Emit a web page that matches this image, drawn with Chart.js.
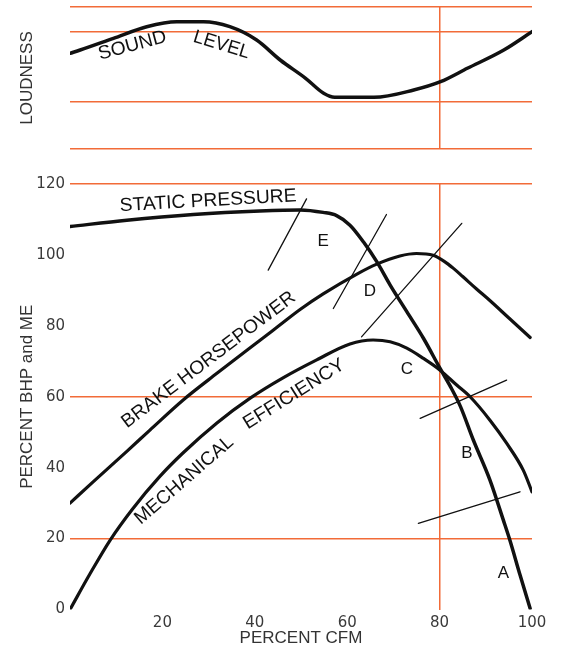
<!DOCTYPE html>
<html>
<head>
<meta charset="utf-8">
<title>Fan performance curves</title>
<script src="https://cdn.jsdelivr.net/npm/chart.js@4.4.1/dist/chart.umd.min.js"></script>
<style>
  html, body { margin: 0; padding: 0; background: #fff; }
  #wrap { position: relative; width: 563px; height: 649px; }
  #topChart { position: absolute; left: 0; top: 0; }
  #mainChart { position: absolute; left: 0; top: 168px; }
</style>
</head>
<body>
<div id="wrap">
  <canvas id="topChart" width="563" height="168"></canvas>
  <canvas id="mainChart" width="563" height="481"></canvas>
</div>
<script>
// x values are percent CFM everywhere
const xTicks = [20, 40, 60, 80, 100];
const yTicks = [0, 20, 40, 60, 80, 100, 120];
const gridPct = [20, 60, 120];     // orange horizontal rules, lower panel
const gridCfm = [80];              // orange vertical rule
const loudnessGrid = [0, 47, 117, 142]; // rules in the loudness panel (arbitrary units)

// sound level (loudness panel, arbitrary units)
const soundCfm = [0, 2.2, 9.4, 16.6, 23.1, 28.9, 34.6, 40.4, 45.5, 51.0, 54.9, 57.3, 65.8, 74.4, 80.2, 86.0, 93.9, 100];
const soundLevel = [95.7, 99, 110.7, 122.3, 127.3, 127.3, 122.3, 109, 89, 70.7, 55.7, 51.7, 51.7, 59, 67.3, 80.7, 99, 117.3];

// static pressure
const staticCfm = [0, 12.3, 26.7, 41.1, 49.8, 54.8, 57.7, 60.6, 63.5, 66.4, 69.3, 72.9, 76.5, 80.1, 82.5, 84.5, 87.3, 90.9, 93.8, 95.2, 97.4, 99.6];
const staticPressure = [108.0, 109.8, 111.4, 112.4, 112.7, 112.0, 111.1, 108.4, 103.7, 98.1, 91.5, 84.0, 76.5, 68.0, 62.5, 57.3, 47.8, 36.5, 25.2, 19.6, 9.8, 0.3];

// brake horsepower
const bhpCfm = [0, 5.0, 12.3, 17.3, 24.5, 31.8, 39.0, 45.0, 49.8, 54.8, 62.1, 66.4, 71.4, 75.0, 78.6, 81.0, 83.0, 85.0, 88.0, 91.0, 95.0, 99.6];
const brakeHp = [30.0, 36.0, 44.6, 50.6, 59.1, 66.6, 73.8, 79.8, 84.6, 89.0, 94.6, 97.4, 99.7, 100.4, 99.9, 98.2, 96.2, 93.9, 90.4, 87.0, 82.2, 76.7];

// mechanical efficiency
const meCfm = [0, 4.3, 8.7, 13.5, 19.5, 24.5, 31.8, 39.0, 46.2, 53.4, 60.6, 65.6, 69.3, 72.9, 76.5, 80.1, 83.7, 86.6, 90.9, 94.5, 98.1, 100];
const mechEff = [0, 10.0, 19.6, 28.3, 37.6, 44.2, 52.6, 59.6, 65.4, 70.4, 74.9, 76.0, 75.5, 73.7, 70.8, 67.5, 63.3, 60.0, 53.4, 46.9, 39.3, 33.2];

// thin construction lines E, D, C, B, A (end points)
const tangentCfm = [[42.9, 51.2], [57.0, 68.5], [63.1, 84.8], [75.8, 94.5], [75.4, 97.4]];
const tangentPct = [[95.7, 115.8], [84.9, 111.4], [76.9, 108.9], [53.9, 64.7], [24.3, 33.2]];

// region letters
const pointLetters = ['A', 'B', 'C', 'D', 'E'];
const letterCfm = [93.8, 85.9, 72.9, 64.9, 54.8];
const letterPct = [10.2, 44.0, 67.8, 89.6, 103.7];

const ORANGE = '#f26b38';
const INK = '#111';
const TICK = '#3a3a3a';
const SANS = '"Liberation Sans", Arial, sans-serif';

function pts(xs, ys) {
    return xs.map((v, i) => ({ x: v, y: ys[i] }));
}

function curve(xs, ys, width) {
    return {
        data: pts(xs, ys),
        borderColor: INK,
        borderWidth: width,
        pointRadius: 0,
        cubicInterpolationMode: 'monotone',
        borderCapStyle: 'round',
        borderJoinStyle: 'round',
        fill: false
    };
}

function gridColor(list) {
    return function (c) {
        return (c.tick && list.includes(c.tick.value)) ? ORANGE : 'rgba(0,0,0,0)';
    };
}

// writes labels along the curves, placed with the chart's own scales
const curveText = {
    id: 'curveText',
    afterDatasetsDraw(chart, args, opts) {
        const ctx = chart.ctx;
        const xs = chart.scales.x, ys = chart.scales.y;
        ctx.save();
        ctx.fillStyle = INK;
        ctx.textAlign = 'center';
        ctx.textBaseline = 'middle';
        (opts.items || []).forEach(item => {
            ctx.save();
            ctx.translate(xs.getPixelForValue(item.at[0]), ys.getPixelForValue(item.at[1]));
            ctx.rotate(item.angle * Math.PI / 180);
            ctx.font = item.size + 'px ' + SANS;
            if (item.width) {
                const w = ctx.measureText(item.text).width;
                ctx.scale(item.width / w, 1);
            }
            ctx.fillText(item.text, 0, 0);
            ctx.restore();
        });
        ctx.restore();
    }
};

// loudness panel
new Chart(document.getElementById('topChart'), {
    type: 'line',
    data: {
        datasets: [curve(soundCfm, soundLevel, 3.5)]
    },
    options: {
        responsive: false,
        animation: false,
        layout: { padding: { top: 7, right: 31, bottom: 19, left: 0 } },
        scales: {
            x: {
                type: 'linear', min: 0, max: 100,
                ticks: { display: false, stepSize: 20 },
                grid: { color: gridColor(gridCfm), lineWidth: 1.5, drawTicks: false },
                border: { display: false },
                afterFit: s => { s.height = 0; }
            },
            y: {
                min: 0, max: 142,
                afterBuildTicks: s => { s.ticks = loudnessGrid.map(v => ({ value: v })); },
                ticks: { display: false },
                grid: { color: gridColor(loudnessGrid), lineWidth: 1.5, drawTicks: false },
                border: { display: false },
                title: {
                    display: true, text: 'LOUDNESS', color: '#333',
                    font: { family: SANS, size: 17 },
                    padding: { top: 17, bottom: 0 }
                },
                afterFit: s => { s.width = 70; }
            }
        },
        plugins: {
            legend: { display: false },
            tooltip: { enabled: false },
            curveText: {
                items: [
                    { text: 'SOUND', at: [13.5, 103.3], angle: -15, size: 19, width: 70 },
                    { text: 'LEVEL', at: [32.8, 104], angle: 17, size: 19, width: 58 }
                ]
            }
        }
    },
    plugins: [curveText]
});

// main panel
const mainSets = [
    curve(staticCfm, staticPressure, 3.5),
    curve(bhpCfm, brakeHp, 3.2),
    curve(meCfm, mechEff, 3.2)
];
tangentCfm.forEach((xs, i) => {
    const d = curve(xs, tangentPct[i], 1.3);
    d.cubicInterpolationMode = 'default';
    d.tension = 0;
    mainSets.push(d);
});

new Chart(document.getElementById('mainChart'), {
    type: 'line',
    data: { datasets: mainSets },
    options: {
        responsive: false,
        animation: false,
        layout: { padding: { top: 16, right: 31, bottom: 0, left: 0 } },
        scales: {
            x: {
                type: 'linear', min: 0, max: 100,
                ticks: {
                    stepSize: 20, padding: 5, color: TICK, maxRotation: 0, autoSkip: false,
                    font: { family: '"DejaVu Sans", sans-serif', size: 15 },
                    callback: v => xTicks.includes(v) ? String(v) : ''
                },
                grid: { color: gridColor(gridCfm), lineWidth: 1.5, drawTicks: false },
                border: { display: false },
                title: {
                    display: true, text: 'PERCENT CFM', color: '#333',
                    font: { family: SANS, size: 17 },
                    padding: { top: 0, bottom: 0 }
                },
                afterFit: s => { s.height = 39.5; }
            },
            y: {
                min: 0, max: 120,
                ticks: {
                    stepSize: 20, padding: 5, color: TICK,
                    font: { family: '"DejaVu Sans", sans-serif', size: 15 },
                    callback: v => yTicks.includes(v) ? String(v) : ''
                },
                grid: { color: gridColor(gridPct), lineWidth: 1.5, drawTicks: false },
                border: { display: false },
                title: {
                    display: true, text: 'PERCENT BHP and ME', color: '#333',
                    font: { family: SANS, size: 17 },
                    padding: { top: 17, bottom: 0 }
                },
                afterFit: s => { s.width = 70; }
            }
        },
        plugins: {
            legend: { display: false },
            tooltip: { enabled: false },
            curveText: {
                items: [
                    { text: 'STATIC PRESSURE', at: [29.9, 115.2], angle: -3.2, size: 19, width: 177 },
                    { text: 'BRAKE HORSEPOWER', at: [30.0, 70.4], angle: -37.2, size: 19, width: 213 },
                    { text: 'MECHANICAL', at: [24.7, 36.4], angle: -41, size: 19, width: 124 },
                    { text: 'EFFICIENCY', at: [48.5, 60.7], angle: -32, size: 19, width: 116 }
                ].concat(pointLetters.map((t, i) => ({ text: t, at: [letterCfm[i], letterPct[i]], angle: 0, size: 17 })))
            }
        }
    },
    plugins: [curveText]
});
</script>
</body>
</html>
